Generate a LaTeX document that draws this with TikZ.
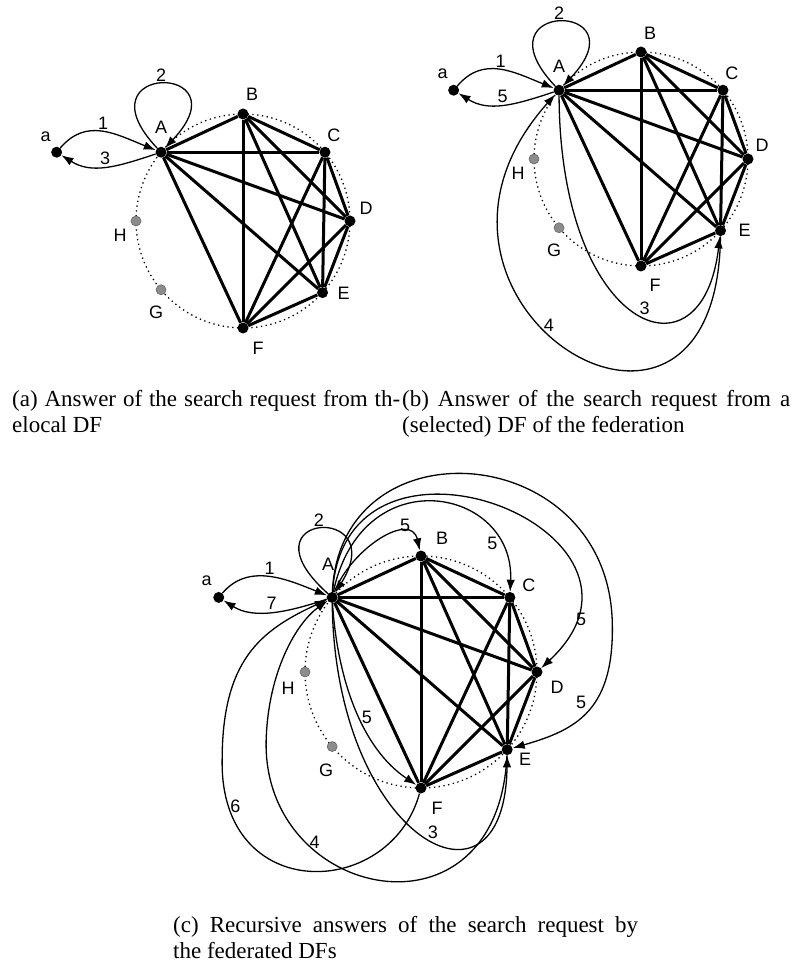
\documentclass[tikz,border=0pt]{standalone}
\usepackage{fontspec}
\setmainfont{Liberation Serif}
\setsansfont{Liberation Sans}
\usetikzlibrary{arrows.meta,positioning,calc}

\begin{document}
\begin{tikzpicture}[x=1pt, y=-1pt,
    dot/.style={circle, fill=black, inner sep=0pt, minimum size=11pt},
    idle/.style={circle, fill=black!45, draw=black!60, line width=0.6pt, inner sep=0pt, minimum size=10pt},
    tag/.style={font=\sffamily\fontsize{18}{18}\selectfont, inner sep=0pt},
    num/.style={font=\sffamily\fontsize{18}{18}\selectfont, inner sep=1.5pt},
    link/.style={line width=3pt},
    ring/.style={line width=1.3pt, dash pattern=on 1.3pt off 3.5pt},
    msg/.style={line width=1.3pt, -{Latex[length=12pt, width=8.5pt]}},
    legend/.style={font=\fontsize{23}{27}\selectfont, anchor=base west, inner sep=0pt}]
    \useasboundingbox (0,0) rectangle (803,965);

    % (a) answer from the local DF
    \begin{scope}[shift={(243,221)}]
        \draw[ring] (0,0) circle[radius=107];
        \node[dot, label={[tag,shift={(0,-25)}]center:A}] (A1) at (-140:107) {};
        \node[dot, label={[tag,shift={(9,-20)}]center:B}] (B1) at (-90:107) {};
        \node[dot, label={[tag,shift={(9,-17)}]center:C}] (C1) at (-40:107) {};
        \node[dot, label={[tag,shift={(16,-13)}]center:D}] (D1) at (0:107) {};
        \node[dot, label={[tag,shift={(21,1)}]center:E}] (E1) at (42:107) {};
        \node[dot, label={[tag,shift={(15,20)}]center:F}] (F1) at (90:107) {};
        \node[idle, label={[tag,shift={(-5,23)}]center:G}] (G1) at (140:107) {};
        \node[idle, label={[tag,shift={(-16,14)}]center:H}] (H1) at (180:107) {};
        \node[dot, left=93pt of A1, label={[tag,shift={(-11,-15)}]center:a}] (a1) {};
        \foreach \u/\v in {A/B,A/C,A/D,A/E,A/F,B/C,B/D,B/E,B/F,C/D,C/E,C/F,D/E,D/F,E/F}
            \draw[link] (\u1) -- (\v1);
        \draw[msg] (a1) .. controls +(30,-35) and +(-45,-18) .. (A1) node[num, pos=.5, above] {1};
        \draw[msg] (A1) .. controls +(-45,15) and +(35,22) .. (a1) node[num, pos=.5, above] {3};
        \draw[msg] (A1) .. controls +(-85,-90) and +(85,-90) .. (A1) node[num, pos=.5, above] {2};
    \end{scope}

    % (b) answer from a selected DF
    \begin{scope}[shift={(641,159)}]
        \draw[ring] (0,0) circle[radius=107];
        \node[dot, label={[tag,shift={(0,-24)}]center:A}] (A2) at (-140:107) {};
        \node[dot, label={[tag,shift={(9,-19)}]center:B}] (B2) at (-90:107) {};
        \node[dot, label={[tag,shift={(9,-17)}]center:C}] (C2) at (-40:107) {};
        \node[dot, label={[tag,shift={(14,-14)}]center:D}] (D2) at (0:107) {};
        \node[dot, label={[tag,shift={(24,0)}]center:E}] (E2) at (42:107) {};
        \node[dot, label={[tag,shift={(14,19)}]center:F}] (F2) at (90:107) {};
        \node[idle, label={[tag,shift={(-5,23)}]center:G}] (G2) at (140:107) {};
        \node[idle, label={[tag,shift={(-16,14)}]center:H}] (H2) at (180:107) {};
        \node[dot, left=94pt of A2, label={[tag,shift={(-11,-16)}]center:a}] (a2) {};
        \foreach \u/\v in {A/B,A/C,A/D,A/E,A/F,B/C,B/D,B/E,B/F,C/D,C/E,C/F,D/E,D/F,E/F}
            \draw[link] (\u2) -- (\v2);
        \draw[msg] (a2) .. controls +(30,-35) and +(-45,-18) .. (A2) node[num, pos=.5, above] {1};
        \draw[msg] (A2) .. controls +(-45,15) and +(35,22) .. (a2) node[num, pos=.5, above] {5};
        \draw[msg] (A2) .. controls +(-85,-90) and +(85,-90) .. (A2) node[num, pos=.5, above] {2};
        \draw[msg] (A2) .. controls +(1,241) and +(-18,157) .. (E2) node[num, pos=.55, above] {3};
        \draw[msg] (E2) .. controls +(-3,287) and +(-189,211) .. (A2) node[num, pos=.55, above] {4};
    \end{scope}

    % (c) recursive answers of the federation
    \begin{scope}[shift={(421,672)}]
        \draw[ring] (0,0) circle[radius=116];
        \node[dot, label={[tag,shift={(-4,-33)}]center:A}] (A3) at (-140:116) {};
        \node[dot, label={[tag,shift={(21,-18)}]center:B}] (B3) at (-90:116) {};
        \node[dot, label={[tag,shift={(19,-12)}]center:C}] (C3) at (-40:116) {};
        \node[dot, label={[tag,shift={(20,15)}]center:D}] (D3) at (0:116) {};
        \node[dot, label={[tag,shift={(18,10)}]center:E}] (E3) at (42:116) {};
        \node[dot, label={[tag,shift={(16,20)}]center:F}] (F3) at (90:116) {};
        \node[idle, label={[tag,shift={(-6,24)}]center:G}] (G3) at (140:116) {};
        \node[idle, label={[tag,shift={(-17,16)}]center:H}] (H3) at (180:116) {};
        \node[dot, left=102pt of A3, label={[tag,shift={(-12,-17)}]center:a}] (a3) {};
        \foreach \u/\v in {A/B,A/C,A/D,A/E,A/F,B/C,B/D,B/E,B/F,C/D,C/E,C/F,D/E,D/F,E/F}
            \draw[link] (\u3) -- (\v3);
        \draw[msg] (a3) .. controls +(30,-35) and +(-45,-18) .. (A3) node[num, pos=.5, above] {1};
        \draw[msg] (A3) .. controls +(-45,15) and +(35,22) .. (a3) node[num, pos=.5, above] {7};
        \draw[msg] (A3) .. controls +(-95,-85) and +(60,-95) .. (A3) node[num, pos=.5, above] {2};
        % forwarded requests
        \draw[msg] (A3) .. controls +(20,-50) and +(-10,-45) .. (B3) node[num, pos=.75, above] {5};
        \draw[msg] (A3) .. controls +(30,-140) and +(5,-110) .. (C3) node[num, pos=.82, left, inner sep=1pt] {5};
        \draw[msg] (A3) .. controls +(13,-200) and +(150,-140) .. (D3) node[num, pos=.88, right] {5};
        \draw[msg] (A3) .. controls +(8,-177) and +(-7,-180) .. ($(E3)+(105,-130)$)
            .. controls +(3,90) and +(70,-20) .. (E3) node[num, pos=.5, anchor=south east, inner sep=1pt] {5};
        \draw[msg] (A3) .. controls +(5,80) and +(-60,-40) .. (F3) node[num, pos=.55, right] {5};
        % answers
        \draw[msg] (A3) .. controls +(3,243) and +(-2,180) .. (E3) node[num, pos=.55, above] {3};
        \draw[msg] (E3) .. controls +(-9,200) and +(-4,160) .. ($(A3)+(-66,143)$) node[num, pos=.7, above] {4}
            .. controls +(2,-70) and +(-35,25) .. (A3);
        \draw[msg] (F3) .. controls +(-31,112) and +(-2,145) .. ($(A3)+(-110,163)$) node[num, pos=.88, right] {6}
            .. controls +(0,-100) and +(-72,33) .. (A3);
    \end{scope}

    % captions
    \node[legend] (capa1) at (12,406) {\makebox[388pt][s]{(a) Answer of the search request from th-}};
    \node[legend] (capa2) at (12,432) {elocal DF};
    \node[legend] (capb1) at (402,406) {\makebox[388pt][s]{(b) Answer of the search request from a}};
    \node[legend] (capb2) at (402,432) {(selected) DF of the federation};
    \node[legend] (capc1) at (173,932) {\makebox[465pt][s]{(c) Recursive answers of the search request by}};
    \node[legend] (capc2) at (173,958) {the federated DFs};
\end{tikzpicture}
\end{document}
